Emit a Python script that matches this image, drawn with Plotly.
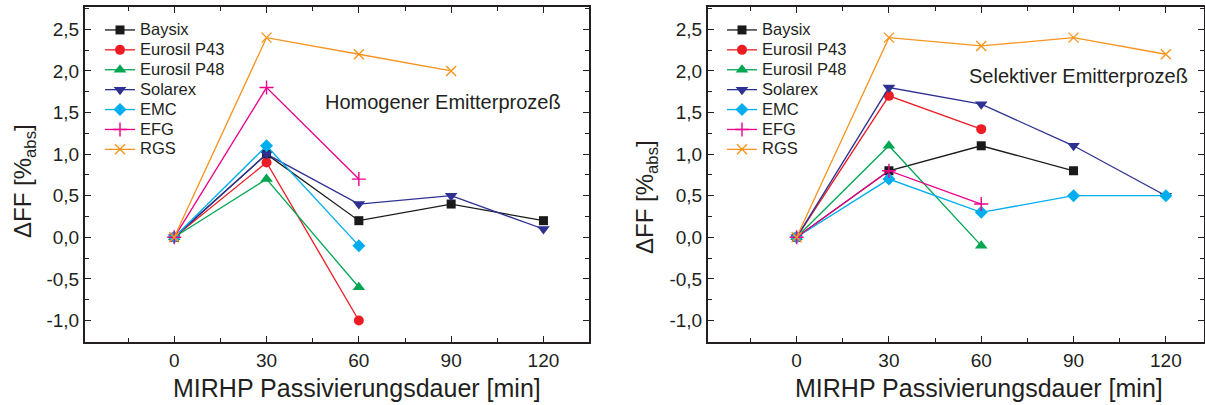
import plotly.graph_objects as go

# ---------------- data ----------------
minutes = [0, 30, 60, 90, 120]

series_names = ["Baysix", "Eurosil P43", "Eurosil P48", "Solarex", "EMC", "EFG", "RGS"]

# Homogener Emitterprozeß (left panel)
hom_baysix = [0.0, 1.0, 0.2, 0.4, 0.2]
hom_p43 = [0.0, 0.9, -1.0]
hom_p48 = [0.0, 0.7, -0.6]
hom_solarex = [0.0, 1.0, 0.4, 0.5, 0.1]
hom_emc = [0.0, 1.1, -0.1]
hom_efg = [0.0, 1.8, 0.7]
hom_rgs = [0.0, 2.4, 2.2, 2.0]

# Selektiver Emitterprozeß (right panel)
sel_baysix = [0.0, 0.8, 1.1, 0.8]
sel_p43 = [0.0, 1.7, 1.3]
sel_p48 = [0.0, 1.1, -0.1]
sel_solarex = [0.0, 1.8, 1.6, 1.1, 0.5]
sel_emc = [0.0, 0.7, 0.3, 0.5, 0.5]
sel_efg = [0.0, 0.8, 0.4]
sel_rgs = [0.0, 2.4, 2.3, 2.4, 2.2]

x_ticks = [0, 30, 60, 90, 120]
x_ticklabels = ["0", "30", "60", "90", "120"]
y_ticks = [-1.0, -0.5, 0.0, 0.5, 1.0, 1.5, 2.0, 2.5]
y_ticklabels = ["-1,0", "-0,5", "0,0", "0,5", "1,0", "1,5", "2,0", "2,5"]

panel_titles = ["Homogener Emitterprozeß", "Selektiver Emitterprozeß"]
x_title = "MIRHP Passivierungsdauer [min]"
y_title = "ΔFF [%<sub>abs</sub>]"

# ---------------- styles ----------------
colors = ["#1a1a1a", "#ed1c24", "#00a651", "#2e3192", "#00aeef", "#ec008c", "#f7941d"]
symbols = ["square", "circle", "triangle-up", "triangle-down", "diamond", "cross-thin", "x-thin"]
msizes = [9, 10, 11, 11, 10, 10, 10]
FONT = "Liberation Sans, Arial, sans-serif"
TXT = "#231f20"

W, H = 1205, 405
def px_x(p):
    return p / W
def px_y(p):
    return 1 - p / H

hom = [hom_baysix, hom_p43, hom_p48, hom_solarex, hom_emc, hom_efg, hom_rgs]
sel = [sel_baysix, sel_p43, sel_p48, sel_solarex, sel_emc, sel_efg, sel_rgs]

fig = go.Figure()

for panel, (data, xa, ya, leg) in enumerate([(hom, "x", "y", "legend"), (sel, "x2", "y2", "legend2")]):
    for i, name in enumerate(series_names):
        vals = data[i]
        thin = symbols[i].endswith("thin")
        fig.add_trace(go.Scatter(
            x=minutes[:len(vals)], y=vals,
            name='<span style="font-size:16.5px">' + name + '</span>',
            mode="lines+markers",
            line=dict(color=colors[i], width=1.3),
            marker=dict(symbol=symbols[i], size=msizes[i], color=colors[i],
                        line=dict(color=colors[i], width=1.4 if thin else 0)),
            xaxis=xa, yaxis=ya, legend=leg, showlegend=True,
        ))

axis_common = dict(
    showline=True, linecolor=TXT, linewidth=2, mirror="ticks",
    ticks="inside", ticklen=6, tickwidth=1.3, tickcolor=TXT,
    showgrid=False, zeroline=False,
    tickfont=dict(family=FONT, size=19, color=TXT),
)
xminor = dict(dtick=15, ticks="inside", ticklen=4, tickwidth=1.3, tickcolor=TXT, showgrid=False)
yminor = dict(dtick=0.25, ticks="inside", ticklen=4, tickwidth=1.3, tickcolor=TXT, showgrid=False)

ydom = [px_y(342), px_y(7)]
yrange = [-1.258, 2.768]

fig.update_layout(
    width=W, height=H,
    margin=dict(l=0, r=0, t=0, b=0),
    paper_bgcolor="white", plot_bgcolor="white",
    font=dict(family=FONT, color=TXT),
    xaxis=dict(domain=[px_x(85), px_x(589)], range=[-29.0, 134.8],
               tickvals=x_ticks, ticktext=x_ticklabels, minor=xminor, anchor="y", **axis_common),
    yaxis=dict(domain=ydom, range=yrange, tickvals=y_ticks, ticktext=y_ticklabels,
               minor=yminor, anchor="x", **axis_common),
    xaxis2=dict(domain=[px_x(708), px_x(1204)], range=[-28.8, 132.4],
                tickvals=x_ticks, ticktext=x_ticklabels, minor=xminor, anchor="y2", **axis_common),
    yaxis2=dict(domain=ydom, range=yrange, tickvals=y_ticks, ticktext=y_ticklabels,
                minor=yminor, anchor="x2", **axis_common),
    legend=dict(x=px_x(100), y=px_y(15), xanchor="left", yanchor="top",
                bgcolor="rgba(0,0,0,0)", borderwidth=0,
                font=dict(family=FONT, size=13, color=TXT), itemwidth=30),
    legend2=dict(x=px_x(722), y=px_y(15), xanchor="left", yanchor="top",
                 bgcolor="rgba(0,0,0,0)", borderwidth=0,
                 font=dict(family=FONT, size=13, color=TXT), itemwidth=30),
)

annotations = [
    dict(text=panel_titles[0], x=px_x(323), y=px_y(102), xref="paper", yref="paper",
         xanchor="left", yanchor="middle", showarrow=False,
         font=dict(family=FONT, size=20, color=TXT)),
    dict(text=panel_titles[1], x=px_x(967), y=px_y(76), xref="paper", yref="paper",
         xanchor="left", yanchor="middle", showarrow=False,
         font=dict(family=FONT, size=20, color=TXT)),
    dict(text=x_title, x=px_x(357), y=px_y(388), xref="paper", yref="paper",
         xanchor="center", yanchor="middle", showarrow=False,
         font=dict(family=FONT, size=25, color=TXT)),
    dict(text=x_title, x=px_x(979), y=px_y(388), xref="paper", yref="paper",
         xanchor="center", yanchor="middle", showarrow=False,
         font=dict(family=FONT, size=25, color=TXT)),
    dict(text=y_title, x=px_x(25), y=px_y(181), xref="paper", yref="paper",
         xanchor="center", yanchor="middle", showarrow=False, textangle=-90,
         font=dict(family=FONT, size=24, color=TXT)),
    dict(text=y_title, x=px_x(646), y=px_y(197), xref="paper", yref="paper",
         xanchor="center", yanchor="middle", showarrow=False, textangle=-90,
         font=dict(family=FONT, size=24, color=TXT)),
]
fig.update_layout(annotations=annotations)

fig.write_html("out.html")
